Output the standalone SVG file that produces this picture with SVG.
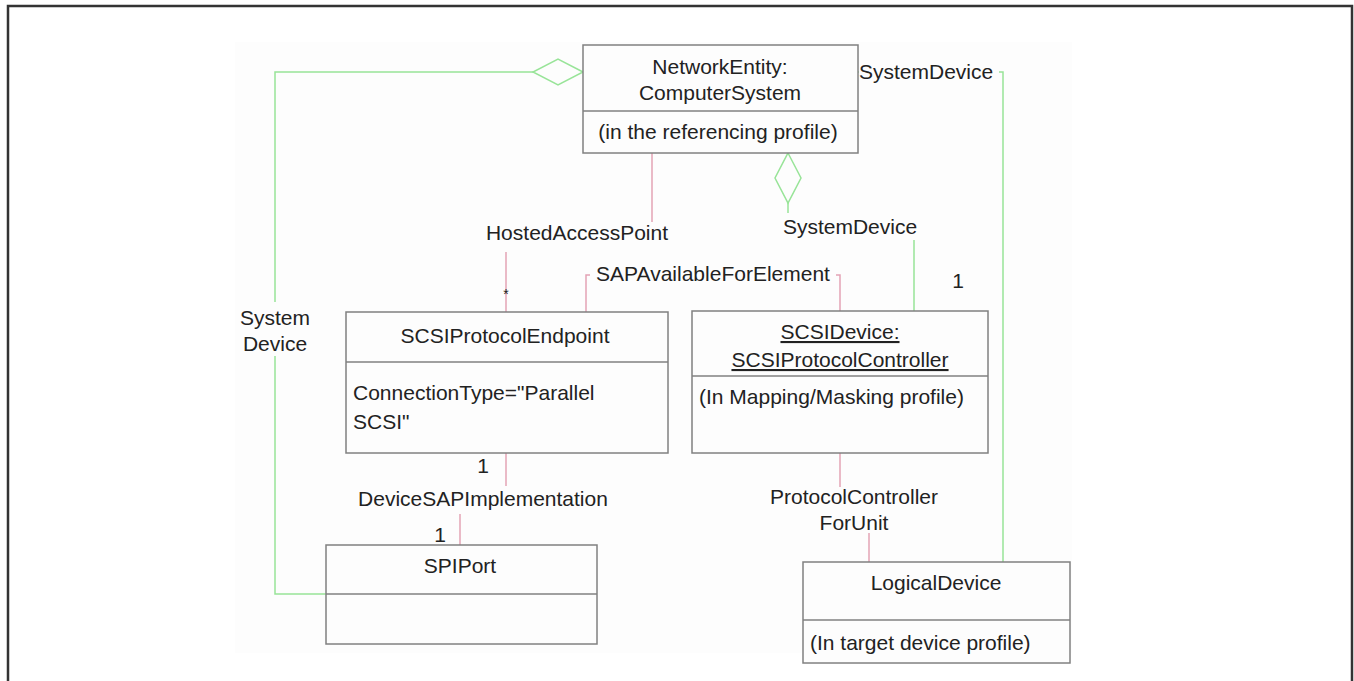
<svg xmlns="http://www.w3.org/2000/svg" width="1354" height="681" viewBox="0 0 1354 681">
<style>
  text { font-family: "Liberation Sans", Arial, sans-serif; font-size: 21px; fill: #222; }
  .c { text-anchor: middle; }
  .box { fill: #fdfdfd; stroke: #808080; stroke-width: 1.5; }
  .div { stroke: #808080; stroke-width: 1.5; }
  .pink { fill: none; stroke: #e3a3b5; stroke-width: 1.5; }
  .green { fill: none; stroke: #98e498; stroke-width: 1.5; }
  .lbl { fill: #fdfdfd; }
  .u { text-decoration: underline; }
</style>
<rect x="0" y="0" width="1354" height="681" fill="#ffffff"/>
<rect x="8" y="6" width="1344" height="690" fill="none" stroke="#333333" stroke-width="2.5"/>
<rect x="235" y="42" width="837" height="611" fill="#fdfdfd"/>

<g id="connectors">
  <!-- SystemDevice left (SPIPort) -->
  <path class="green" d="M533,72 H275 V594 H326"/>
  <polygon class="green" points="583,72 558,59 533,72 558,85" fill="#fdfdfd"/>
  <rect class="lbl" x="236" y="302" width="80" height="54"/>
  <text class="c" x="275" y="325">System</text>
  <text class="c" x="275" y="351">Device</text>

  <!-- SystemDevice right (LogicalDevice) -->
  <path class="green" d="M858,72 H1003 V562"/>
  <rect class="lbl" x="859" y="58" width="140" height="26"/>
  <text x="859" y="79">SystemDevice</text>

  <!-- SystemDevice middle (SCSIDevice) -->
  <polygon class="green" points="788,153 801,178 788,203 775,178"/>
  <path class="green" d="M788,203 V226 H914 V312"/>
  <rect class="lbl" x="778" y="213" width="144" height="27"/>
  <text class="c" x="850" y="234">SystemDevice</text>
  <text class="c" x="958" y="288">1</text>

  <!-- HostedAccessPoint -->
  <path class="pink" d="M652,153 V222"/>
  <path class="pink" d="M506,252 V312"/>
  <text class="c" x="577" y="240">HostedAccessPoint</text>
  <text class="c" x="506" y="299" style="font-size:14px">*</text>

  <!-- SAPAvailableForElement -->
  <path class="pink" d="M586,312 V275 H840 V312"/>
  <rect class="lbl" x="590" y="263" width="246" height="24"/>
  <text class="c" x="713" y="281">SAPAvailableForElement</text>

  <!-- DeviceSAPImplementation -->
  <path class="pink" d="M506,453 V486"/>
  <path class="pink" d="M460,514 V545"/>
  <text class="c" x="483" y="473">1</text>
  <text class="c" x="483" y="506">DeviceSAPImplementation</text>
  <text class="c" x="440" y="542">1</text>

  <!-- ProtocolControllerForUnit -->
  <path class="pink" d="M840,453 V487"/>
  <path class="pink" d="M869,533 V562"/>
  <text class="c" x="854" y="504">ProtocolController</text>
  <text class="c" x="854" y="530">ForUnit</text>
</g>

<g id="networkentity">
  <rect class="box" x="583" y="45" width="275" height="108"/>
  <line class="div" x1="583" y1="111" x2="858" y2="111"/>
  <text class="c" x="720" y="74">NetworkEntity:</text>
  <text class="c" x="720" y="100">ComputerSystem</text>
  <text class="c" x="718" y="139">(in the referencing profile)</text>
</g>

<g id="scsiprotocolendpoint">
  <rect class="box" x="346" y="312" width="322" height="141"/>
  <line class="div" x1="346" y1="362" x2="668" y2="362"/>
  <text class="c" x="505" y="343">SCSIProtocolEndpoint</text>
  <text x="353" y="400">ConnectionType="Parallel</text>
  <text x="353" y="429">SCSI"</text>
</g>

<g id="scsidevice">
  <rect class="box" x="692" y="311" width="296" height="142"/>
  <line class="div" x1="692" y1="376" x2="988" y2="376"/>
  <text class="c u" x="840" y="339">SCSIDevice:</text>
  <text class="c u" x="840" y="367">SCSIProtocolController</text>
  <text x="699" y="404">(In Mapping/Masking profile)</text>
</g>

<g id="spiport">
  <rect class="box" x="326" y="545" width="271" height="99"/>
  <line class="div" x1="326" y1="594" x2="597" y2="594"/>
  <text class="c" x="460" y="573">SPIPort</text>
</g>

<g id="logicaldevice">
  <rect class="box" x="803" y="562" width="267" height="101"/>
  <line class="div" x1="803" y1="620" x2="1070" y2="620"/>
  <text class="c" x="936" y="590">LogicalDevice</text>
  <text x="810" y="650">(In target device profile)</text>
</g>
</svg>
